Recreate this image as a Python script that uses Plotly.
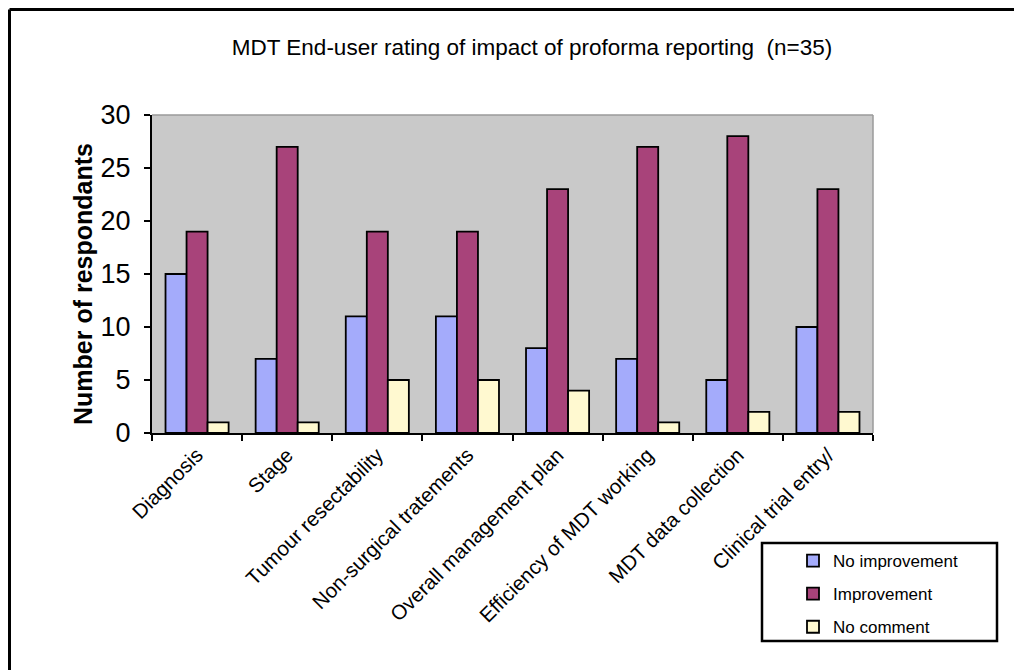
import plotly.graph_objects as go

categories = ["Diagnosis", "Stage", "Tumour resectability", "Non-surgical tratements",
              "Overall management plan", "Efficiency of MDT working",
              "MDT data collection", "Clinical trial entry/"]
no_improvement = [15, 7, 11, 11, 8, 7, 5, 10]
improvement = [19, 27, 19, 19, 23, 27, 28, 23]
no_comment = [1, 1, 5, 5, 4, 1, 2, 2]

series_names = ["No improvement", "Improvement", "No comment"]
series_colors = ["#A4ABFB", "#A8437A", "#FFF9D0"]
series_values = [no_improvement, improvement, no_comment]

# page has an 8px body margin, so the figure starts at (8, 8)
OFF = 8
W, H = 1022 - OFF, 670 - OFF
L, R, T, B = 152 - OFF, 149, 115 - OFF, 237
pw, ph = W - L - R, H - T - B

def px_x(x):  # reference page x -> paper
    return (x - OFF - L) / pw

def px_y(y):  # reference page y -> paper
    return (H - B - (y - OFF)) / ph

FONT = "Liberation Sans, Arial, sans-serif"

fig = go.Figure()
for i, (name, color, vals) in enumerate(zip(series_names, series_colors, series_values)):
    fig.add_trace(go.Bar(
        x=categories, y=vals, name=name, legendgroup=name,
        marker=dict(color=color, line=dict(color="black", width=1.8)),
    ))

fig.update_layout(
    width=W, height=H,
    margin=dict(l=L, r=R, t=T, b=B, autoexpand=False),
    paper_bgcolor="white",
    plot_bgcolor="#C9C9C9",
    barmode="group",
    bargap=0.3,
    bargroupgap=0,
    font=dict(family=FONT, color="black"),
    title=dict(text="MDT End-user rating of impact of proforma reporting  (n=35)",
               x=(532 - OFF) / W, xanchor="center", y=1 - (47 - OFF) / H, yanchor="middle",
               font=dict(size=22.5, family=FONT, color="black")),
    showlegend=True,
    legend=dict(x=px_x(793), xanchor="left", y=px_y(543), yanchor="top",
                bgcolor="rgba(0,0,0,0)", borderwidth=0,
                font=dict(size=17, family=FONT, color="black"),
                tracegroupgap=8, itemwidth=30, traceorder="grouped"),
    xaxis=dict(
        type="category", showgrid=False, showline=True, linecolor="black", linewidth=2,
        ticks="outside", tickson="boundaries", ticklen=6, tickcolor="black", tickwidth=2,
        tickangle=-45, tickfont=dict(size=20.5, family=FONT, color="black"),
        zeroline=False,
    ),
    yaxis=dict(
        range=[0, 30], tickvals=[0, 5, 10, 15, 20, 25, 30], showgrid=False,
        showline=True, linecolor="black", linewidth=2,
        ticks="outside", ticklen=6, tickcolor="black", tickwidth=2,
        tickfont=dict(size=27, family=FONT, color="black"), ticklabelstandoff=8,
        zeroline=False,
    ),
    shapes=[
        dict(type="line", xref="paper", yref="paper", x0=0, x1=1, y0=1, y1=1,
             line=dict(color="#9A9A9A", width=1.5), layer="above"),
        dict(type="line", xref="paper", yref="paper", x0=1, x1=1, y0=0, y1=1,
             line=dict(color="#9A9A9A", width=1.5), layer="below"),
        dict(type="line", xref="paper", yref="paper", x0=px_x(9.5), x1=px_x(1040),
             y0=px_y(9.5), y1=px_y(9.5), line=dict(color="black", width=3)),
        dict(type="line", xref="paper", yref="paper", x0=px_x(9.5), x1=px_x(9.5),
             y0=px_y(9.5), y1=px_y(690), line=dict(color="black", width=3)),
        dict(type="rect", xref="paper", yref="paper", x0=px_x(762), x1=px_x(997),
             y0=px_y(543), y1=px_y(641), line=dict(color="black", width=2.5),
             fillcolor="rgba(0,0,0,0)"),
    ],
    annotations=[
        dict(text="<b>Number of respondants</b>", xref="paper", yref="paper",
             x=px_x(83), y=px_y(284), textangle=-90, showarrow=False,
             xanchor="center", yanchor="middle",
             font=dict(size=25, family=FONT, color="black")),
    ],
)

fig.write_html("out.html")
